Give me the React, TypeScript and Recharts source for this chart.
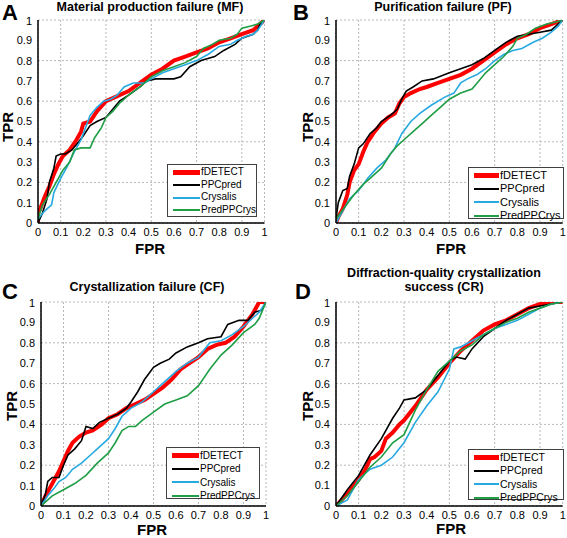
import { LineChart, Line, XAxis, YAxis, CartesianGrid } from 'recharts';

// axis ticks shared by all four ROC panels
const TICKS = [0, 0.1, 0.2, 0.3, 0.4, 0.5, 0.6, 0.7, 0.8, 0.9, 1];

const METHODS = ['fDETECT', 'PPCpred', 'Crysalis', 'PredPPCrys'];
const COLORS = ['#ff0000', '#000000', '#27a9e1', '#1f9e45'];
const WIDTHS = [4, 1.6, 1.6, 1.6];

// A: material production failure (FPR, TPR)
const MF_FDETECT = [[0, 0], [0, 0.05], [0.01, 0.07], [0.03, 0.13], [0.05, 0.18], [0.07, 0.24], [0.09, 0.29], [0.11, 0.33], [0.14, 0.36], [0.17, 0.41], [0.19, 0.45], [0.2, 0.49], [0.23, 0.5], [0.26, 0.55], [0.3, 0.6], [0.34, 0.62], [0.4, 0.65], [0.45, 0.69], [0.5, 0.73], [0.55, 0.76], [0.6, 0.8], [0.65, 0.82], [0.7, 0.84], [0.75, 0.86], [0.8, 0.89], [0.85, 0.91], [0.9, 0.93], [0.95, 0.95], [0.97, 0.97], [1, 1]];
const MF_PPCPRED = [[0, 0], [0.02, 0.05], [0.04, 0.12], [0.05, 0.2], [0.07, 0.27], [0.08, 0.33], [0.1, 0.34], [0.12, 0.34], [0.15, 0.36], [0.18, 0.4], [0.2, 0.43], [0.23, 0.48], [0.26, 0.5], [0.3, 0.52], [0.33, 0.56], [0.36, 0.6], [0.4, 0.63], [0.45, 0.67], [0.48, 0.7], [0.52, 0.71], [0.6, 0.71], [0.63, 0.72], [0.67, 0.77], [0.72, 0.8], [0.78, 0.82], [0.82, 0.85], [0.87, 0.88], [0.9, 0.91], [0.95, 0.93], [0.97, 0.95], [0.98, 0.98], [1, 1]];
const MF_CRYSALIS = [[0, 0.02], [0.03, 0.06], [0.06, 0.09], [0.07, 0.15], [0.1, 0.22], [0.13, 0.28], [0.16, 0.35], [0.19, 0.41], [0.21, 0.47], [0.23, 0.53], [0.26, 0.57], [0.29, 0.6], [0.32, 0.61], [0.35, 0.63], [0.38, 0.67], [0.42, 0.69], [0.47, 0.69], [0.5, 0.71], [0.55, 0.74], [0.6, 0.76], [0.65, 0.78], [0.7, 0.8], [0.75, 0.83], [0.8, 0.87], [0.85, 0.88], [0.88, 0.9], [0.92, 0.92], [0.95, 0.93], [0.97, 0.95], [1, 1]];
const MF_PREDPPCRYS = [[0, 0.02], [0.02, 0.09], [0.05, 0.14], [0.08, 0.2], [0.11, 0.26], [0.14, 0.3], [0.16, 0.36], [0.19, 0.37], [0.23, 0.37], [0.25, 0.42], [0.28, 0.47], [0.3, 0.52], [0.33, 0.55], [0.36, 0.59], [0.4, 0.63], [0.45, 0.67], [0.5, 0.72], [0.55, 0.75], [0.6, 0.77], [0.65, 0.79], [0.7, 0.82], [0.73, 0.86], [0.77, 0.88], [0.8, 0.9], [0.85, 0.91], [0.88, 0.93], [0.9, 0.96], [0.94, 0.97], [0.97, 0.98], [1, 1]];

// B: purification failure
const PF_FDETECT = [[0, 0], [0.01, 0.03], [0.03, 0.07], [0.05, 0.14], [0.06, 0.2], [0.08, 0.26], [0.1, 0.29], [0.12, 0.35], [0.14, 0.4], [0.17, 0.45], [0.2, 0.49], [0.23, 0.52], [0.26, 0.54], [0.28, 0.59], [0.3, 0.62], [0.33, 0.64], [0.37, 0.66], [0.4, 0.67], [0.45, 0.69], [0.5, 0.71], [0.55, 0.73], [0.6, 0.76], [0.65, 0.8], [0.7, 0.84], [0.75, 0.88], [0.8, 0.91], [0.85, 0.93], [0.9, 0.96], [0.95, 0.98], [1, 1]];
const PF_PPCPRED = [[0, 0.02], [0.01, 0.1], [0.02, 0.13], [0.03, 0.16], [0.05, 0.17], [0.06, 0.23], [0.08, 0.29], [0.1, 0.37], [0.12, 0.39], [0.15, 0.44], [0.18, 0.47], [0.2, 0.5], [0.24, 0.53], [0.27, 0.56], [0.29, 0.61], [0.31, 0.65], [0.34, 0.67], [0.38, 0.7], [0.43, 0.71], [0.5, 0.74], [0.55, 0.76], [0.6, 0.78], [0.65, 0.81], [0.7, 0.85], [0.75, 0.89], [0.8, 0.92], [0.85, 0.93], [0.9, 0.94], [0.95, 0.95], [1, 1]];
const PF_CRYSALIS = [[0, 0], [0.03, 0.06], [0.06, 0.12], [0.1, 0.16], [0.14, 0.22], [0.18, 0.27], [0.22, 0.31], [0.26, 0.37], [0.29, 0.44], [0.33, 0.5], [0.37, 0.54], [0.42, 0.58], [0.48, 0.62], [0.52, 0.64], [0.55, 0.69], [0.58, 0.71], [0.62, 0.73], [0.66, 0.76], [0.7, 0.8], [0.74, 0.83], [0.78, 0.85], [0.82, 0.86], [0.87, 0.89], [0.91, 0.91], [0.95, 0.94], [0.98, 0.97], [1, 1]];
const PF_PREDPPCRYS = [[0, 0.02], [0.04, 0.08], [0.08, 0.14], [0.12, 0.19], [0.16, 0.23], [0.2, 0.27], [0.24, 0.34], [0.27, 0.38], [0.3, 0.41], [0.34, 0.45], [0.38, 0.49], [0.42, 0.53], [0.46, 0.57], [0.5, 0.61], [0.55, 0.64], [0.6, 0.66], [0.63, 0.7], [0.66, 0.74], [0.7, 0.78], [0.74, 0.82], [0.78, 0.87], [0.8, 0.91], [0.84, 0.93], [0.88, 0.96], [0.93, 0.98], [0.97, 0.99], [1, 1]];

// C: crystallization failure
const CF_FDETECT = [[0, 0], [0.02, 0.05], [0.04, 0.09], [0.06, 0.13], [0.08, 0.17], [0.1, 0.22], [0.12, 0.27], [0.14, 0.31], [0.17, 0.34], [0.2, 0.36], [0.23, 0.37], [0.27, 0.4], [0.3, 0.43], [0.34, 0.45], [0.38, 0.48], [0.42, 0.5], [0.46, 0.52], [0.5, 0.55], [0.54, 0.58], [0.58, 0.62], [0.62, 0.67], [0.66, 0.7], [0.7, 0.73], [0.74, 0.77], [0.78, 0.79], [0.82, 0.8], [0.86, 0.83], [0.9, 0.88], [0.94, 0.94], [0.97, 1], [1, 1]];
const CF_PPCPRED = [[0, 0], [0.02, 0.06], [0.03, 0.12], [0.05, 0.14], [0.08, 0.14], [0.1, 0.2], [0.12, 0.25], [0.15, 0.28], [0.18, 0.32], [0.2, 0.39], [0.23, 0.38], [0.26, 0.41], [0.3, 0.43], [0.34, 0.45], [0.38, 0.48], [0.4, 0.51], [0.43, 0.56], [0.46, 0.62], [0.5, 0.68], [0.53, 0.7], [0.57, 0.72], [0.6, 0.75], [0.65, 0.78], [0.7, 0.8], [0.74, 0.82], [0.8, 0.83], [0.83, 0.89], [0.88, 0.91], [0.92, 0.91], [0.95, 0.95], [0.98, 0.96], [1, 1]];
const CF_CRYSALIS = [[0, 0], [0.03, 0.05], [0.06, 0.09], [0.08, 0.12], [0.11, 0.14], [0.14, 0.18], [0.18, 0.21], [0.22, 0.25], [0.26, 0.29], [0.3, 0.33], [0.33, 0.38], [0.36, 0.44], [0.4, 0.48], [0.45, 0.51], [0.5, 0.56], [0.55, 0.61], [0.6, 0.66], [0.65, 0.7], [0.7, 0.73], [0.75, 0.8], [0.8, 0.81], [0.85, 0.84], [0.9, 0.88], [0.95, 0.93], [0.97, 0.95], [1, 1]];
const CF_PREDPPCRYS = [[0, 0], [0.05, 0.05], [0.1, 0.08], [0.15, 0.11], [0.2, 0.15], [0.25, 0.21], [0.3, 0.26], [0.33, 0.31], [0.36, 0.37], [0.39, 0.39], [0.42, 0.39], [0.45, 0.42], [0.5, 0.46], [0.55, 0.5], [0.6, 0.52], [0.65, 0.54], [0.7, 0.59], [0.75, 0.67], [0.8, 0.74], [0.85, 0.79], [0.9, 0.85], [0.95, 0.89], [0.97, 0.92], [1, 1]];

// D: diffraction-quality crystallization success
const CR_FDETECT = [[0, 0], [0.05, 0.06], [0.1, 0.13], [0.13, 0.18], [0.15, 0.23], [0.17, 0.24], [0.2, 0.27], [0.22, 0.33], [0.25, 0.36], [0.28, 0.4], [0.3, 0.42], [0.35, 0.49], [0.4, 0.57], [0.45, 0.63], [0.5, 0.7], [0.55, 0.76], [0.6, 0.81], [0.65, 0.86], [0.7, 0.89], [0.75, 0.91], [0.8, 0.94], [0.85, 0.97], [0.9, 0.99], [0.95, 1], [1, 1]];
const CR_PPCPRED = [[0, 0], [0.05, 0.08], [0.1, 0.15], [0.15, 0.25], [0.2, 0.33], [0.25, 0.43], [0.28, 0.48], [0.3, 0.52], [0.35, 0.53], [0.4, 0.57], [0.45, 0.64], [0.5, 0.71], [0.53, 0.73], [0.57, 0.72], [0.6, 0.77], [0.65, 0.83], [0.7, 0.87], [0.75, 0.91], [0.8, 0.94], [0.85, 0.97], [0.9, 0.98], [0.95, 0.99], [1, 1]];
const CR_CRYSALIS = [[0, 0], [0.05, 0.03], [0.1, 0.13], [0.15, 0.18], [0.2, 0.2], [0.25, 0.24], [0.3, 0.31], [0.35, 0.41], [0.4, 0.49], [0.45, 0.56], [0.5, 0.67], [0.52, 0.77], [0.55, 0.78], [0.6, 0.81], [0.65, 0.84], [0.7, 0.87], [0.75, 0.89], [0.8, 0.91], [0.85, 0.94], [0.9, 0.97], [0.95, 0.99], [1, 1]];
const CR_PREDPPCRYS = [[0, 0], [0.05, 0.05], [0.1, 0.12], [0.15, 0.19], [0.2, 0.24], [0.25, 0.31], [0.3, 0.35], [0.35, 0.47], [0.4, 0.57], [0.45, 0.66], [0.5, 0.71], [0.55, 0.76], [0.6, 0.79], [0.65, 0.84], [0.7, 0.87], [0.75, 0.9], [0.8, 0.92], [0.85, 0.95], [0.9, 0.97], [0.95, 0.99], [1, 1]];

const FONT = 'Arial, "Liberation Sans", sans-serif';

// plot rect in page pixels: [x0, x1, y0, y1]; titleTop is the top of the title block
const PANELS = [
  {
    letter: 'A', title: ['Material production failure (MF)'], series: [MF_FDETECT, MF_PPCPRED, MF_CRYSALIS, MF_PREDPPCRYS],
    plot: [37.5, 264, 20, 223], letterPos: [2, 2], titleX: 150, titleTop: 0, fprC: [150, 248], tprC: [8, 127],
    legend: { left: 167, top: 164, width: 90, height: 53, font: 10, row: 12.7, sample: 27 },
  },
  {
    letter: 'B', title: ['Purification failure (PF)'], series: [PF_FDETECT, PF_PPCPRED, PF_CRYSALIS, PF_PREDPPCRYS],
    plot: [336.3, 563, 20, 223], letterPos: [293, 2], titleX: 443, titleTop: 0, fprC: [451, 248], tprC: [308, 127],
    legend: { left: 468, top: 167, width: 96, height: 52, font: 11, row: 13.3, sample: 25 },
  },
  {
    letter: 'C', title: ['Crystallization failure (CF)'], series: [CF_FDETECT, CF_PPCPRED, CF_CRYSALIS, CF_PREDPPCRYS],
    plot: [40.7, 265.7, 302.3, 506.3], letterPos: [2, 281], titleX: 147, titleTop: 280, fprC: [152, 529], tprC: [12, 406],
    legend: { left: 166, top: 447, width: 94, height: 52, font: 10, row: 13.3, sample: 27 },
  },
  {
    letter: 'D', title: ['Diffraction-quality crystallization', 'success (CR)'], series: [CR_FDETECT, CR_PPCPRED, CR_CRYSALIS, CR_PREDPPCRYS],
    plot: [336.3, 563, 301.7, 505.7], letterPos: [295, 281], titleX: 444, titleTop: 266, fprC: [451, 528], tprC: [308, 406],
    legend: { left: 468, top: 449, width: 96, height: 51, font: 10.5, row: 13.3, sample: 25 },
  },
];

const tickFmt = (v: number) => String(v);

function Panel({ p }: { p: typeof PANELS[number] }) {
  const [x0, x1, y0, y1] = p.plot;
  const yAxisW = 40;
  const xAxisH = 25;
  const left = x0 - yAxisW;
  const top = y0 - 5;
  const w = x1 - x0 + yAxisW + 5;
  const h = y1 - y0 + 5 + xAxisH;
  const lg = p.legend;
  return (
    <>
      <div style={{ position: 'absolute', left, top }}>
        <LineChart width={w} height={h} margin={{ top: 5, right: 5, left: 0, bottom: 0 }}>
          <CartesianGrid stroke="#b8b8b8" strokeDasharray="2 2" />
          <XAxis
            type="number" dataKey="x" domain={[0, 1]} ticks={TICKS} height={xAxisH}
            tickFormatter={tickFmt} tickLine={false} tickSize={3} tickMargin={2}
            axisLine={{ stroke: '#000', strokeWidth: 1.5 }}
            tick={{ fontSize: 11, fill: '#000', fontFamily: FONT }}
            allowDataOverflow
          />
          <YAxis
            type="number" dataKey="y" domain={[0, 1]} ticks={TICKS} width={yAxisW}
            tickFormatter={tickFmt} tickLine={false} tickSize={4} tickMargin={2}
            axisLine={{ stroke: '#000', strokeWidth: 1.5 }}
            tick={{ fontSize: 11, fill: '#000', fontFamily: FONT }}
            allowDataOverflow
          />
          {p.series.map((s, i) => (
            <Line
              key={METHODS[i]}
              name={METHODS[i]}
              data={s.map(([x, y]) => ({ x, y }))}
              dataKey="y"
              type="linear"
              stroke={COLORS[i]}
              strokeWidth={WIDTHS[i]}
              dot={false}
              isAnimationActive={false}
            />
          ))}
        </LineChart>
      </div>
      <div style={{ position: 'absolute', left: p.letterPos[0], top: p.letterPos[1], fontSize: 22, fontWeight: 'bold', lineHeight: '22px' }}>
        {p.letter}
      </div>
      <div style={{ position: 'absolute', left: p.titleX - 150, top: p.titleTop, width: 300, textAlign: 'center', fontSize: 12.5, fontWeight: 'bold', lineHeight: '14px' }}>
        {p.title.map(t => <div key={t}>{t}</div>)}
      </div>
      <div style={{ position: 'absolute', left: p.fprC[0] - 30, top: p.fprC[1] - 5.5, width: 60, textAlign: 'center', fontSize: 15, fontWeight: 'bold', lineHeight: '11px' }}>
        FPR
      </div>
      <div style={{ position: 'absolute', left: p.tprC[0] - 30, top: p.tprC[1] - 8, width: 60, textAlign: 'center', fontSize: 15, fontWeight: 'bold', lineHeight: '16px', transform: 'rotate(-90deg)' }}>
        TPR
      </div>
      <div style={{ position: 'absolute', left: lg.left, top: lg.top, width: lg.width, height: lg.height, boxSizing: 'border-box', border: '1px solid #404040', background: '#fff', paddingTop: 1 }}>
        {METHODS.map((m, i) => (
          <div key={m} style={{ display: 'flex', alignItems: 'center', height: lg.row, fontSize: lg.font, lineHeight: `${lg.row}px` }}>
            <span style={{ display: 'inline-block', marginLeft: 5, width: lg.sample, height: i === 0 ? 5 : 2, background: COLORS[i], marginRight: 1 }} />
            <span>{m}</span>
          </div>
        ))}
      </div>
    </>
  );
}

export default function App() {
  return (
    <div style={{ position: 'absolute', left: 0, top: 0, width: 567, height: 538, background: '#fff', fontFamily: FONT, color: '#000', overflow: 'hidden' }}>
      {PANELS.map(p => <Panel key={p.letter} p={p} />)}
    </div>
  );
}
